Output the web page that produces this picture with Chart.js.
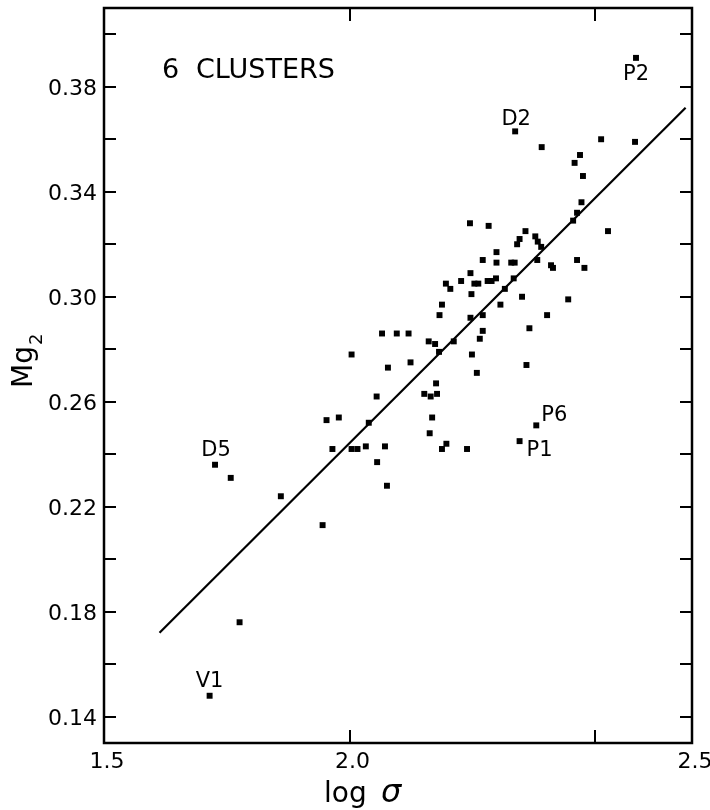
<!DOCTYPE html>
<html>
<head>
<meta charset="utf-8">
<script src="https://cdn.jsdelivr.net/npm/chart.js"></script>
<style>
	body { margin: 0; background: #fff; }
	#wrapper { width: 710px; height: 810px; }
</style>
</head>
<body>
<div id="wrapper"><canvas id="myChart"></canvas></div>
<script>
// log sigma and Mg2 of the galaxies in the 6 clusters
var logSigma = [2.583, 2.337, 2.391, 2.512, 2.581, 2.469, 2.458, 2.475, 2.472, 2.463,
	2.455, 2.526, 2.245, 2.283, 2.358, 2.346, 2.341, 2.378, 2.383, 2.390,
	2.299, 2.271, 2.299, 2.329, 2.336, 2.382, 2.410, 2.414, 2.463, 2.478,
	2.246, 2.254, 2.262, 2.281, 2.289, 2.298, 2.334, 2.316, 2.248, 2.351,
	2.307, 2.445, 2.246, 2.271, 2.402, 2.271, 2.265, 2.366, 2.227, 2.196,
	2.205, 2.188, 2.183, 2.066, 2.096, 2.120, 2.161, 2.174, 2.212, 2.004,
	2.124, 2.078, 2.182, 2.249, 2.259, 2.360, 2.176, 2.152, 2.165, 2.178,
	2.055, 2.039, 2.168, 2.163, 2.188, 2.197, 2.239, 2.346, 2.380, 1.965,
	2.004, 2.016, 2.033, 2.072, 2.056, 2.076, 1.953, 1.978, 1.726, 1.758,
	1.860, 1.945, 1.776, 1.715];
var mg2 = [0.391, 0.363, 0.357, 0.360, 0.359, 0.354, 0.351, 0.346, 0.336, 0.332,
	0.329, 0.325, 0.328, 0.327, 0.325, 0.322, 0.320, 0.323, 0.321, 0.319,
	0.317, 0.314, 0.313, 0.313, 0.313, 0.314, 0.312, 0.311, 0.314, 0.311,
	0.309, 0.305, 0.305, 0.306, 0.306, 0.307, 0.307, 0.303, 0.301, 0.300,
	0.297, 0.299, 0.292, 0.293, 0.293, 0.287, 0.284, 0.288, 0.306, 0.305,
	0.303, 0.297, 0.293, 0.286, 0.286, 0.286, 0.283, 0.282, 0.283, 0.278,
	0.275, 0.273, 0.279, 0.278, 0.271, 0.274, 0.267, 0.263, 0.262, 0.263,
	0.262, 0.252, 0.254, 0.248, 0.242, 0.244, 0.242, 0.245, 0.251, 0.242,
	0.242, 0.242, 0.243, 0.243, 0.237, 0.228, 0.253, 0.254, 0.236, 0.231,
	0.224, 0.213, 0.176, 0.148];

// named galaxies (index into the arrays above)
var pointNames = ['P2', 'D2', 'P1', 'P6', 'D5', 'V1'];
var pointIndex = [0, 1, 77, 78, 88, 93];

// fitted relation, end points
var fitX = [1.613, 2.684];
var fitY = [0.172, 0.372];

var yTicks = [0.14, 0.16, 0.18, 0.20, 0.22, 0.24, 0.26, 0.28, 0.30, 0.32, 0.34, 0.36, 0.38, 0.40];
var yTickLabels = ['0.14', '0.18', '0.22', '0.26', '0.30', '0.34', '0.38'];
var yLabelValues = [0.14, 0.18, 0.22, 0.26, 0.30, 0.34, 0.38];
var xTicks = [2.0, 2.5];
var xTickLabels = ['1.5', '2.0', '2.5'];
// in the original the "2.5" label is printed at the right end of the axis
var xLabelAt = [1.5, 2.0, 2.697];

// where each name sits relative to its point: dx, dy, align
var nameOffset = {
	P2: [0, 17, 'center'], D2: [1, -12, 'center'], P1: [7, 9, 'left'],
	P6: [5, -10, 'left'], D5: [1, -14, 'center'], V1: [0, -14, 'center']
};

var pts = logSigma.map(function(v, i){ return {x: v, y: mg2[i]}; });
var fit = fitX.map(function(v, i){ return {x: v, y: fitY[i]}; });

var FONT = '"DejaVu Sans", sans-serif';

var framePlugin = {
	id: 'frame',
	afterDraw: function(chart){
		var ctx = chart.ctx, a = chart.chartArea;
		var xs = chart.scales.x, ys = chart.scales.y;
		ctx.save();
		ctx.strokeStyle = '#000';
		ctx.fillStyle = '#000';
		ctx.lineWidth = 2.5;
		ctx.strokeRect(a.left, a.top, a.right - a.left, a.bottom - a.top);

		// inward tick marks on all four sides
		ctx.lineWidth = 2;
		ctx.beginPath();
		yTicks.forEach(function(v){
			var py = Math.round(ys.getPixelForValue(v));
			ctx.moveTo(a.left, py); ctx.lineTo(a.left + 12, py);
			ctx.moveTo(a.right, py); ctx.lineTo(a.right - 12, py);
		});
		xTicks.forEach(function(v){
			var px = Math.round(xs.getPixelForValue(v));
			ctx.moveTo(px, a.top); ctx.lineTo(px, a.top + 13);
			ctx.moveTo(px, a.bottom); ctx.lineTo(px, a.bottom - 13);
		});
		ctx.stroke();

		// tick labels
		ctx.font = '22px ' + FONT;
		ctx.textBaseline = 'alphabetic';
		ctx.textAlign = 'right';
		yLabelValues.forEach(function(v, i){
			ctx.fillText(yTickLabels[i], a.left - 7, ys.getPixelForValue(v) + 8);
		});
		ctx.textAlign = 'center';
		xLabelAt.forEach(function(v, i){
			ctx.fillText(xTickLabels[i], xs.getPixelForValue(v) + 3, a.bottom + 25);
		});

		// point names
		ctx.font = '21px ' + FONT;
		ctx.textBaseline = 'middle';
		pointNames.forEach(function(n, i){
			var k = pointIndex[i], o = nameOffset[n];
			ctx.textAlign = o[2];
			ctx.fillText(n, xs.getPixelForValue(logSigma[k]) + o[0], ys.getPixelForValue(mg2[k]) + o[1]);
		});

		// panel title
		ctx.textBaseline = 'alphabetic';
		ctx.textAlign = 'left';
		ctx.font = '27px ' + FONT;
		ctx.fillText('6', a.left + 58, a.top + 70);
		ctx.fillText('CLUSTERS', a.left + 92, a.top + 70);

		// x axis title
		ctx.font = '28px ' + FONT;
		ctx.fillText('log', 324, 802);
		ctx.font = 'italic 32px ' + FONT;
		ctx.fillText('\u03C3', 381, 802);

		// y axis title, Mg with subscript 2
		ctx.translate(32, 388);
		ctx.rotate(-Math.PI / 2);
		ctx.font = '28px ' + FONT;
		ctx.fillText('Mg', 0, 0);
		var w = ctx.measureText('Mg').width;
		ctx.font = '18px ' + FONT;
		ctx.fillText('2', w + 1, 10);
		ctx.restore();
	}
};

new Chart(document.getElementById('myChart'), {
	type: 'scatter',
	data: {
		datasets: [
			{
				data: pts,
				pointStyle: 'rect',
				pointRadius: 4.2,
				backgroundColor: '#000',
				borderWidth: 0
			},
			{
				type: 'line',
				data: fit,
				showLine: true,
				borderColor: '#000',
				borderWidth: 2.2,
				pointRadius: 0,
				fill: false
			}
		]
	},
	options: {
		responsive: true,
		maintainAspectRatio: false,
		animation: false,
		layout: { padding: { left: 104, right: 18, top: 8, bottom: 67 } },
		plugins: { legend: { display: false }, tooltip: { enabled: false } },
		scales: {
			x: { type: 'linear', display: false, min: 1.5, max: 2.697 },
			y: { type: 'linear', display: false, min: 0.13, max: 0.41 }
		}
	},
	plugins: [framePlugin]
});
</script>
</body>
</html>
